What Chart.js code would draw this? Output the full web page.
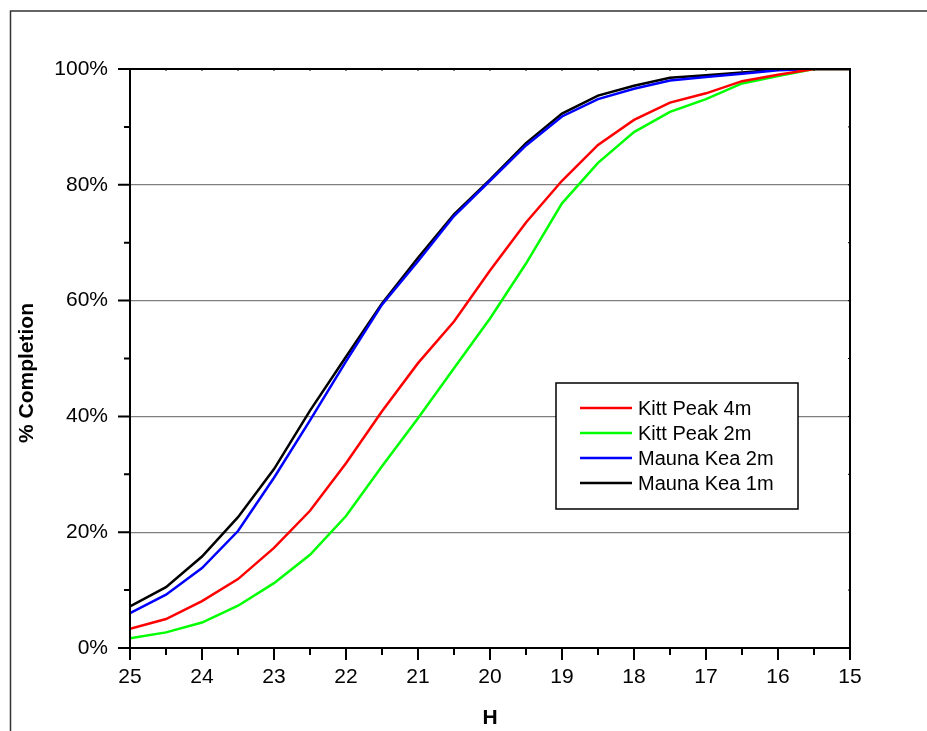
<!DOCTYPE html>
<html>
<head>
<meta charset="utf-8">
<script src="https://cdn.jsdelivr.net/npm/chart.js@4"></script>
<style>
  body { margin: 0; background: #fff; }
</style>
</head>
<body>
<canvas id="completion" width="927" height="731"></canvas>
<script>
// H magnitude, every 0.5
const H = [25, 24.5, 24, 23.5, 23, 22.5, 22, 21.5, 21, 20.5, 20, 19.5, 19, 18.5, 18, 17.5, 17, 16.5, 16, 15.5, 15];

const kittPeak4m = [3.3, 5.0, 8.1, 11.9, 17.3, 23.7, 31.9, 40.9, 49.2, 56.4, 65.2, 73.5, 80.7, 86.9, 91.2, 94.2, 95.8, 97.9, 99.0, 100, 100];
const kittPeak2m = [1.7, 2.7, 4.4, 7.3, 11.2, 16.1, 22.8, 31.4, 39.7, 48.3, 56.9, 66.4, 76.8, 83.8, 89.1, 92.6, 94.8, 97.5, 98.8, 100, 100];
const maunaKea2m = [6.0, 9.2, 13.8, 20.2, 29.4, 39.3, 49.5, 59.3, 66.8, 74.6, 80.7, 86.8, 91.8, 94.8, 96.6, 98.0, 98.6, 99.2, 99.8, 100, 100];
const maunaKea1m = [7.2, 10.5, 15.8, 22.6, 30.9, 41.0, 50.3, 59.5, 67.4, 74.9, 80.9, 87.2, 92.3, 95.4, 97.1, 98.5, 98.9, 99.4, 99.9, 100, 100];

const seriesNames = ['Kitt Peak 4m', 'Kitt Peak 2m', 'Mauna Kea 2m', 'Mauna Kea 1m'];
const seriesColors = ['#ff0000', '#00ff00', '#0000ff', '#000000'];
const seriesValues = [kittPeak4m, kittPeak2m, maunaKea2m, maunaKea1m];

const FONT = '"Liberation Sans", Arial, sans-serif';

function pairs(values) {
  return H.map((h, i) => ({ x: h, y: values[i] }));
}

// frame, minor ticks, axis titles and the boxed legend
const decorations = {
  id: 'decorations',
  beforeDraw(chart) {
    const c = chart.ctx;
    c.save();
    c.strokeStyle = '#333';
    c.lineWidth = 1.5;
    c.beginPath();
    c.moveTo(10.5, 731);
    c.lineTo(10.5, 11);
    c.lineTo(927, 11);
    c.stroke();
    c.restore();
  },
  afterDraw(chart) {
    const c = chart.ctx;
    const a = chart.chartArea;
    const xs = chart.scales.x;
    const ys = chart.scales.y;
    c.save();

    // outer ticks on left and bottom
    c.strokeStyle = '#000';
    c.lineWidth = 2;
    c.beginPath();
    for (let v = 0; v <= 100; v += 10) {
      const y = ys.getPixelForValue(v);
      const len = v % 20 === 0 ? 12 : 6;
      c.moveTo(a.left - len, y);
      c.lineTo(a.left, y);
    }
    for (let h = 15; h <= 25; h += 0.5) {
      const x = xs.getPixelForValue(h);
      const len = Number.isInteger(h) ? 12 : 7;
      c.moveTo(x, a.bottom);
      c.lineTo(x, a.bottom + len);
    }
    c.stroke();

    // tiny inner ticks on top and right
    c.lineWidth = 1;
    c.beginPath();
    for (let v = 0; v <= 100; v += 10) {
      const y = ys.getPixelForValue(v);
      c.moveTo(a.right, y);
      c.lineTo(a.right - 2, y);
    }
    for (let h = 15; h <= 25; h += 0.5) {
      const x = xs.getPixelForValue(h);
      c.moveTo(x, a.top);
      c.lineTo(x, a.top + 2);
    }
    c.stroke();

    // plot frame
    c.lineWidth = 2;
    c.strokeRect(a.left, a.top, a.right - a.left, a.bottom - a.top);

    // axis titles
    c.fillStyle = '#000';
    c.font = 'bold 21px ' + FONT;
    c.textAlign = 'center';
    c.textBaseline = 'middle';
    c.fillText('H', (a.left + a.right) / 2, 718);
    c.translate(27, 373);
    c.rotate(-Math.PI / 2);
    c.fillText('% Completion', 0, 0);
    c.setTransform(1, 0, 0, 1, 0, 0);

    // legend
    c.fillStyle = '#fff';
    c.fillRect(556, 383, 242, 126);
    c.strokeStyle = '#000';
    c.lineWidth = 1.5;
    c.strokeRect(556, 383, 242, 126);
    c.font = '20px ' + FONT;
    c.textAlign = 'left';
    chart.data.datasets.forEach((ds, i) => {
      const y = 408 + i * 25;
      c.strokeStyle = ds.borderColor;
      c.lineWidth = 2.5;
      c.beginPath();
      c.moveTo(580, y);
      c.lineTo(632, y);
      c.stroke();
      c.fillStyle = '#000';
      c.fillText(ds.label, 638, y + 1);
    });
    c.restore();
  }
};

new Chart(document.getElementById('completion'), {
  type: 'line',
  data: {
    datasets: seriesNames.map((name, i) => ({
      label: name,
      data: pairs(seriesValues[i]),
      borderColor: seriesColors[i],
      backgroundColor: seriesColors[i],
      borderWidth: 2.5,
      pointRadius: 0,
      tension: 0
    }))
  },
  options: {
    responsive: false,
    animation: false,
    layout: { padding: { top: 69, right: 77, left: 0, bottom: 0 } },
    plugins: {
      legend: { display: false },
      tooltip: { enabled: false }
    },
    scales: {
      x: {
        type: 'linear',
        reverse: true,
        min: 15,
        max: 25,
        afterFit: s => { s.height = 83; },
        grid: { display: false, drawTicks: false },
        border: { display: false },
        ticks: { stepSize: 1, padding: 17, color: '#000', font: { family: FONT, size: 21 } }
      },
      y: {
        min: 0,
        max: 100,
        afterFit: s => { s.width = 130; },
        grid: {
          drawTicks: false,
          color: ctx => (ctx.tick.value % 100 === 0 ? 'rgba(0,0,0,0)' : '#7f7f7f'),
          lineWidth: 1.2
        },
        border: { display: false },
        ticks: {
          stepSize: 20,
          padding: 22,
          color: '#000',
          font: { family: FONT, size: 21 },
          callback: v => v + '%'
        }
      }
    }
  },
  plugins: [decorations]
});
</script>
</body>
</html>
